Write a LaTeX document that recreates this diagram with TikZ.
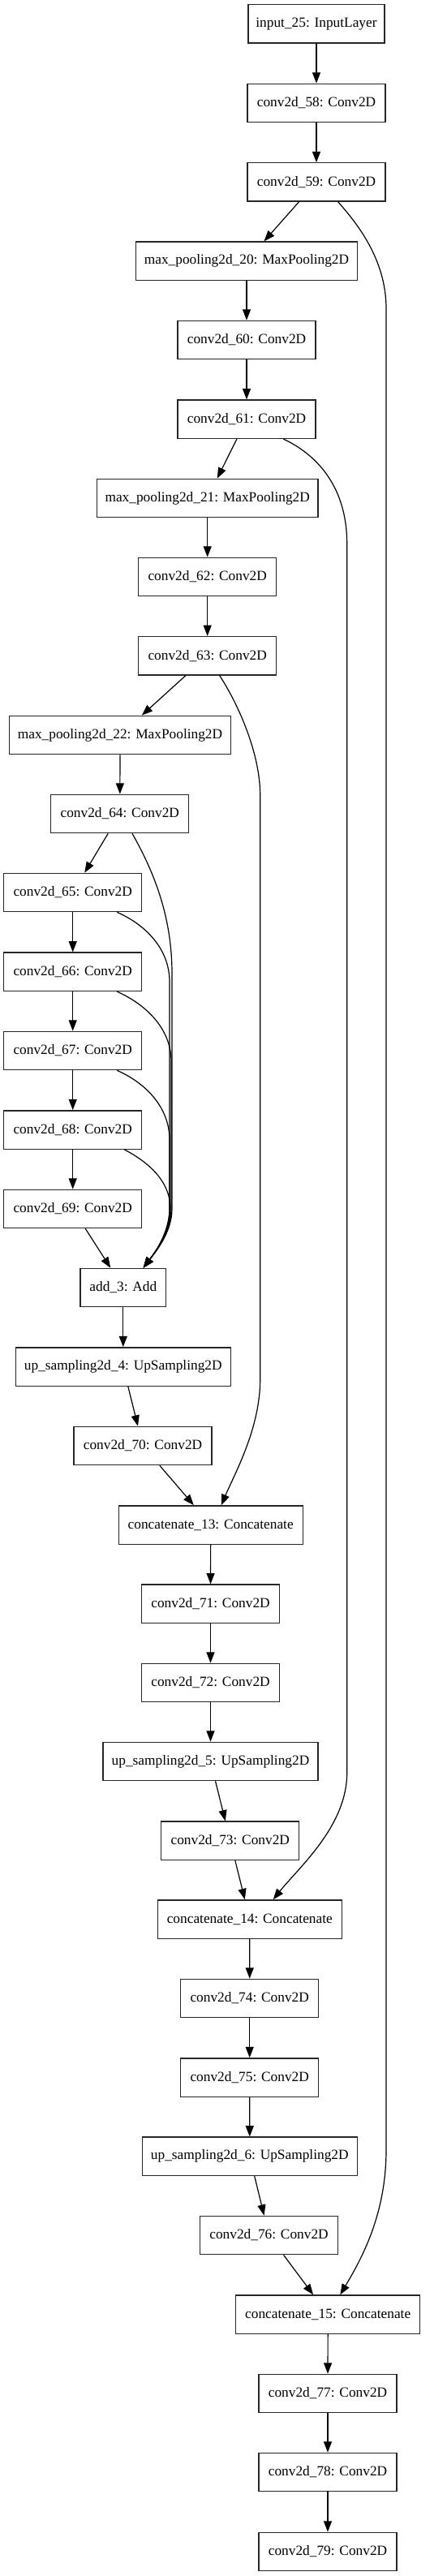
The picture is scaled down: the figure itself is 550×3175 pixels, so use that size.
\documentclass[tikz,border=0pt]{standalone}
\usepackage{fontspec}
\setmainfont{Liberation Serif}
\usetikzlibrary{arrows.meta,calc}
\begin{document}
\begin{tikzpicture}[x=0.75pt,y=-0.75pt,
 layer/.style={draw=black!85, line width=1pt, fill=white, minimum height=35.5pt, inner sep=0pt, font=\fontsize{13}{15}\selectfont},
 cv/.style={layer, minimum width=127.5pt},
 inp/.style={layer, minimum width=126.2pt},
 mp/.style={layer, minimum width=204.5pt},
 us/.style={layer, minimum width=198.75pt},
 ct/.style={layer, minimum width=170.25pt},
 ad/.style={layer, minimum width=79.3pt},
 edge/.style={line width=0.9pt, -{Triangle[length=10pt,width=7.5pt]}}
]
\useasboundingbox (0,0) rectangle (550,3175);
\node[inp] (in)  at (390,29.5)   {input\_25: InputLayer};
\node[cv]  (c58) at (390,127)    {conv2d\_58: Conv2D};
\node[cv]  (c59) at (390,224.5)  {conv2d\_59: Conv2D};
\node[mp]  (mp20) at (304,321.7) {max\_pooling2d\_20: MaxPooling2D};
\node[cv]  (c60) at (304,419)    {conv2d\_60: Conv2D};
\node[cv]  (c61) at (304,516.7)  {conv2d\_61: Conv2D};
\node[mp]  (mp21) at (255.7,614) {max\_pooling2d\_21: MaxPooling2D};
\node[cv]  (c62) at (255.7,711)  {conv2d\_62: Conv2D};
\node[cv]  (c63) at (255.7,808.3) {conv2d\_63: Conv2D};
\node[mp]  (mp22) at (148,906)   {max\_pooling2d\_22: MaxPooling2D};
\node[cv]  (c64) at (147.8,1003) {conv2d\_64: Conv2D};
\node[cv]  (c65) at (89.7,1100)  {conv2d\_65: Conv2D};
\node[cv]  (c66) at (89.7,1197.8) {conv2d\_66: Conv2D};
\node[cv]  (c67) at (89.7,1295)  {conv2d\_67: Conv2D};
\node[cv]  (c68) at (89.7,1392.5) {conv2d\_68: Conv2D};
\node[cv]  (c69) at (89.7,1490)  {conv2d\_69: Conv2D};
\node[ad]  (add) at (151.8,1587) {add\_3: Add};
\node[us]  (up4) at (151.8,1684.5) {up\_sampling2d\_4: UpSampling2D};
\node[cv]  (c70) at (176,1782)   {conv2d\_70: Conv2D};
\node[ct]  (cat13) at (259.7,1879.5) {concatenate\_13: Concatenate};
\node[cv]  (c71) at (259.5,1976.7) {conv2d\_71: Conv2D};
\node[cv]  (c72) at (259.5,2074) {conv2d\_72: Conv2D};
\node[us]  (up5) at (259.5,2171) {up\_sampling2d\_5: UpSampling2D};
\node[cv]  (c73) at (283.8,2268.7) {conv2d\_73: Conv2D};
\node[ct]  (cat14) at (307.8,2365.5) {concatenate\_14: Concatenate};
\node[cv]  (c74) at (307.7,2463) {conv2d\_74: Conv2D};
\node[cv]  (c75) at (307.7,2560.5) {conv2d\_75: Conv2D};
\node[us]  (up6) at (307.8,2657.8) {up\_sampling2d\_6: UpSampling2D};
\node[cv]  (c76) at (331.5,2755) {conv2d\_76: Conv2D};
\node[ct]  (cat15) at (404.2,2852.7) {concatenate\_15: Concatenate};
\node[cv]  (c77) at (404,2950)   {conv2d\_77: Conv2D};
\node[cv]  (c78) at (404,3047)   {conv2d\_78: Conv2D};
\node[cv]  (c79) at (404,3145)   {conv2d\_79: Conv2D};

\foreach \a/\b in {in/c58,c58/c59,c59/mp20,mp20/c60,c60/c61,c61/mp21,mp21/c62,c62/c63,c63/mp22,mp22/c64,c64/c65,c65/c66,c66/c67,c67/c68,c68/c69,c69/add,add/up4,up4/c70,c70/cat13,cat13/c71,c71/c72,c72/up5,up5/c73,c73/cat14,cat14/c74,c74/c75,c75/up6,up6/c76,c76/cat15,cat15/c77,c77/c78,c78/c79}
  \draw[edge] (\a) -- (\b);

% long skip connections
\draw[edge] ($(c59.south)+(26.7,0)$) .. controls (440,275) and (476,320) .. (476,380) -- (476,2650) .. controls (476,2730) and (445,2785) .. ($(cat15.north)+(15.1,0)$);
\draw[edge] ($(c61.south)+(45.3,0)$) .. controls (400,565) and (427.7,610) .. (427.7,670) -- (427.7,2185) .. controls (427.7,2250) and (370,2300) .. ($(cat14.north)+(28.9,0)$);
\draw[edge] ($(c63.south)+(15,0)$) .. controls (295,870) and (320.7,930) .. (320.7,980) -- (320.7,1700) .. controls (320.7,1760) and (290,1815) .. ($(cat13.north)+(13,0)$);

% edges into add_3
\draw[edge] ($(c64.south)+(15.2,0)$) .. controls (190,1075) and (212,1130) .. (212,1200) -- (212,1490) .. controls (212,1520) and (190,1545) .. ($(add.north)+(24.9,0)$);
\draw[edge] ($(c65.south)+(54.6,0)$) .. controls (180,1140) and (209,1170) .. (209,1210) -- (209,1490) .. controls (209,1520) and (190,1545) .. ($(add.north)+(24.9,0)$);
\draw[edge] ($(c66.south)+(54.6,0)$) .. controls (180,1238) and (211,1268) .. (211,1308) -- (211,1490) .. controls (211,1520) and (190,1545) .. ($(add.north)+(24.9,0)$);
\draw[edge] ($(c67.south)+(54.6,0)$) .. controls (180,1335) and (209,1365) .. (209,1405) -- (209,1490) .. controls (209,1520) and (190,1545) .. ($(add.north)+(24.9,0)$);
\draw[edge] ($(c68.south)+(63.6,0)$) .. controls (182,1432) and (210,1455) .. (210,1490) .. controls (210,1520) and (190,1545) .. ($(add.north)+(24.9,0)$);
\end{tikzpicture}
\end{document}
